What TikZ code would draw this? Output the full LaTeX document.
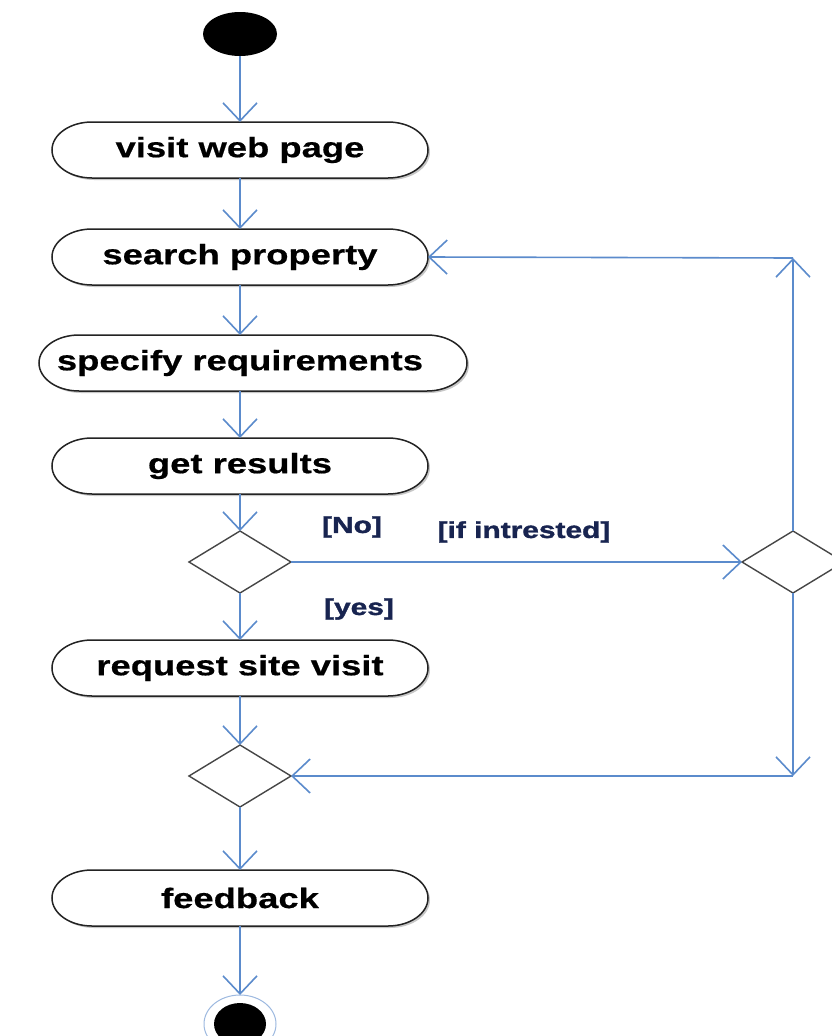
\documentclass[tikz,border=0pt]{standalone}
\usepackage{fontspec}
\usetikzlibrary{arrows.meta,shapes.geometric,backgrounds}
\newfontfamily\actfont[FakeStretch=1.3,FakeBold=0.6]{Liberation Sans}
\newfontfamily\guardfont[FakeStretch=1.3,FakeBold=1.5]{Liberation Sans}
\definecolor{flowc}{RGB}{91,139,204}
\definecolor{guardc}{RGB}{24,36,80}
\definecolor{edgec}{RGB}{35,35,35}
\definecolor{diac}{RGB}{70,70,70}
\tikzset{
  act/.style={rectangle, minimum width=376pt, minimum height=56pt, inner sep=0pt, outer sep=0pt,
    font=\actfont\bfseries\fontsize{28}{30}\selectfont, text=black},
  decis/.style={diamond, draw=diac, line width=1.4pt, fill=white, minimum width=102pt, minimum height=62pt, inner sep=0pt, outer sep=0pt},
  flow/.style={draw=flowc, line width=1.6pt, -{Straight Barb[length=18pt,width=34pt]}},
  guard/.style={font=\guardfont\bfseries\fontsize{23}{25}\selectfont, text=guardc, inner sep=0pt},
  actline/.style={draw=edgec, line width=1.5pt, fill=white},
  actshadow/.style={fill=black!22}
}
\newcommand\stadium[1]{%
  \fill[actshadow] ([xshift=42pt,yshift=-2pt]#1.north west) -- ([xshift=-38pt,yshift=-2pt]#1.north east)
    arc[start angle=90,end angle=-90,x radius=40pt,y radius=28pt]
    -- ([xshift=42pt,yshift=-2pt]#1.south west)
    arc[start angle=270,end angle=90,x radius=40pt,y radius=28pt] -- cycle;
  \path[actline] ([xshift=40pt]#1.north west) -- ([xshift=-40pt]#1.north east)
    arc[start angle=90,end angle=-90,x radius=40pt,y radius=28pt]
    -- ([xshift=40pt]#1.south west)
    arc[start angle=270,end angle=90,x radius=40pt,y radius=28pt] -- cycle;}
\begin{document}
\begin{tikzpicture}[x=1pt,y=1pt]
\useasboundingbox (0,0) rectangle (831,-1036);

% nodes
\node[ellipse, fill=black, minimum width=74pt, minimum height=44pt, inner sep=0pt, outer sep=0pt] (start) at (240,-34) {};
\node[act] (visit) at (240,-150) {\raisebox{-2pt}{visit web page}};
\node[act] (search) at (240,-257) {\raisebox{-2pt}{search property}};
\node[act, minimum width=428pt] (spec) at (253,-363) {\hspace*{-26pt}\raisebox{-2pt}{specify requirements}};
\node[act] (results) at (240,-466) {\raisebox{-2pt}{get results}};
\node[decis] (dec) at (240,-562) {};
\node[decis] (right) at (793,-562) {};
\node[act] (request) at (240,-668) {\raisebox{-2pt}{request site visit}};
\node[decis] (merge) at (240,-776) {};
\node[act] (feedback) at (240,-898) {\raisebox{-2pt}{feedback}};
\node[ellipse, draw=flowc!60, line width=1pt, fill=white, minimum width=72pt, minimum height=58pt, inner sep=0pt, outer sep=0pt] (end) at (240,-1024) {};
\node[ellipse, fill=black, minimum width=52pt, minimum height=42pt, inner sep=0pt] (endin) at (end.center) {};

\coordinate (upcorner) at (793,-258);
\coordinate (downcorner) at (793,-776);

\begin{scope}[on background layer]
  \fill[white] (0,0) rectangle (831,-1036);
  \stadium{visit}
  \stadium{search}
  \stadium{spec}
  \stadium{results}
  \stadium{request}
  \stadium{feedback}
\end{scope}

% guards
\node[guard] (gno) at (352,-527) {[No]};
\node[guard] (gif) at (524,-532) {[if intrested]};
\node[guard] (gyes) at (359,-609) {[yes]};

% connectors
\draw[flow] (start) -- (visit);
\draw[flow] (visit) -- (search);
\draw[flow] (search) -- (spec.north -| search);
\draw[flow] (spec.south -| results) -- (results);
\draw[flow] (results) -- (dec);
\draw[flow] (dec.east) -- (right.west);
\draw[flow] (right.north) -- (upcorner);
\draw[flow] (upcorner) -- (search.east);
\draw[flow] (right.south) -- (downcorner);
\draw[flow] (downcorner) -- (merge.east);
\draw[flow] (dec.south) -- (request.north);
\draw[flow] (request) -- (merge);
\draw[flow] (merge) -- (feedback);
\draw[flow] (feedback) -- (end);
\end{tikzpicture}
\end{document}
